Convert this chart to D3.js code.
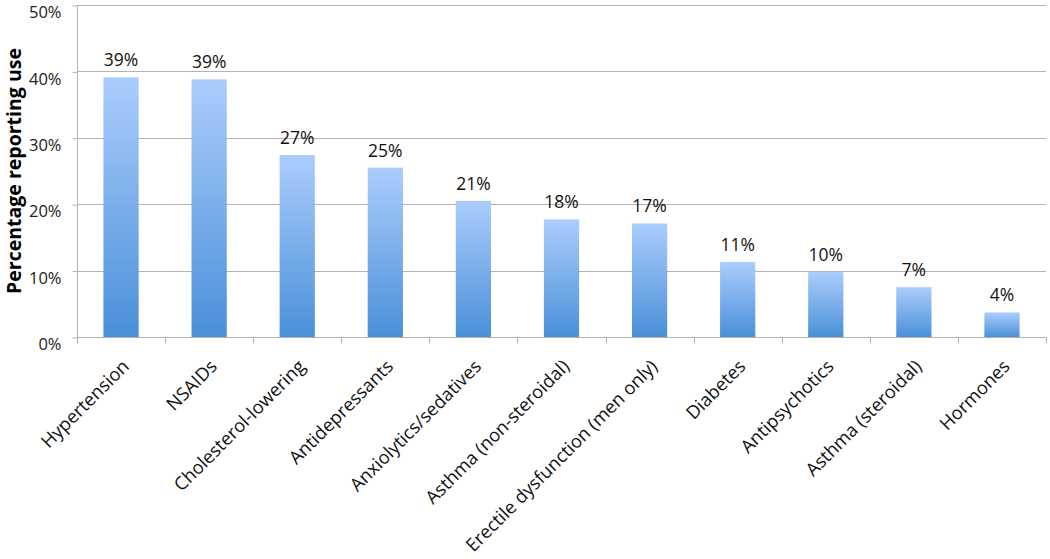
<!DOCTYPE html>
<html><head><meta charset="utf-8">
<script src="https://cdn.jsdelivr.net/npm/d3@7"></script>
<style>body{margin:0;background:#fff}svg{display:block}</style>
</head><body>
<script>
const categories = ["Hypertension","NSAIDs","Cholesterol-lowering","Antidepressants","Anxiolytics/sedatives","Asthma (non-steroidal)","Erectile dysfunction (men only)","Diabetes","Antipsychotics","Asthma (steroidal)","Hormones"];
const values = [0.391,0.388,0.274,0.255,0.205,0.177,0.171,0.113,0.098,0.075,0.037];
const labels = ["39%","39%","27%","25%","21%","18%","17%","11%","10%","7%","4%"];
const yTicks = [0,0.1,0.2,0.3,0.4,0.5];
const yTitle = "Percentage reporting use";

const W=1050,H=559;
const m={l:77,r:4,t:5,b:222};
const svg=d3.select("body").append("svg").attr("width",W).attr("height",H);
const font="'Open Sans', sans-serif";
const defs=svg.append("defs");
const g=defs.append("linearGradient").attr("id","bg").attr("x1",0).attr("y1",0).attr("x2",0).attr("y2",1);
g.append("stop").attr("offset","0%").attr("stop-color","#abcdfd");
g.append("stop").attr("offset","100%").attr("stop-color","#4a90d8");

const x=d3.scaleBand().domain(categories).range([m.l,W-m.r]).paddingInner(0.6).paddingOuter(0.3);
const y=d3.scaleLinear().domain([0,0.5]).range([H-m.b,m.t]);

// gridlines
svg.append("g").selectAll("line").data(yTicks.slice(1)).join("line")
 .attr("x1",m.l).attr("x2",W-m.r).attr("y1",d=>Math.round(y(d))+0.5).attr("y2",d=>Math.round(y(d))+0.5)
 .attr("stroke","#b3b3b3").attr("stroke-width",1);

// y axis
const ya=svg.append("g").attr("transform",`translate(${m.l+0.5},0.5)`)
 .call(d3.axisLeft(y).tickValues(yTicks).tickFormat(d3.format(".0%")).tickSize(5).tickPadding(11));
ya.select(".domain").attr("stroke","#b3b3b3").attr("d",`M0,${y(0.5)}V${y(0)}`);
ya.selectAll(".tick line").attr("stroke","#b3b3b3");
ya.selectAll(".tick text").attr("font-family",font).attr("font-size",16.5).attr("fill","#222").attr("dy","0.74em");

// x axis
const base=Math.round(y(0))+0.5;
svg.append("line").attr("x1",m.l).attr("x2",W-m.r).attr("y1",base).attr("y2",base).attr("stroke","#b3b3b3");
const bounds=d3.range(categories.length+1).map(i=>m.l+ i*(W-m.r-m.l)/categories.length);
svg.append("g").selectAll("line").data(bounds).join("line")
 .attr("x1",d=>Math.round(d)+0.5).attr("x2",d=>Math.round(d)+0.5).attr("y1",base).attr("y2",base+6).attr("stroke","#b3b3b3");

// bars
svg.append("g").selectAll("rect").data(categories).join("rect")
 .attr("x",d=>x(d)).attr("width",x.bandwidth())
 .attr("y",(d,i)=>y(values[i])).attr("height",(d,i)=>y(0)-y(values[i]))
 .attr("fill","url(#bg)");

// data labels
svg.append("g").selectAll("text").data(categories).join("text")
 .attr("x",d=>x(d)+x.bandwidth()/2).attr("y",(d,i)=>y(values[i])-11)
 .attr("text-anchor","middle").attr("font-family",font).attr("font-size",17.5).attr("fill","#111")
 .text((d,i)=>labels[i]);

// category labels
svg.append("g").selectAll("text").data(categories).join("text")
 .attr("transform",d=>`translate(${x(d)+x.bandwidth()/2},${base+21}) rotate(-45)`)
 .attr("text-anchor","end").attr("dy","0.7em").attr("font-family",font).attr("font-size",18.3).attr("fill","#111")
 .text(d=>d);

// y title
svg.append("text").attr("transform",`translate(21,${(y(0)+y(0.5))/2}) rotate(-90)`)
 .attr("text-anchor","middle").attr("font-family",font).attr("font-size",19.5).attr("font-weight","bold").attr("fill","#000")
 .text(yTitle);
</script>
</body></html>
